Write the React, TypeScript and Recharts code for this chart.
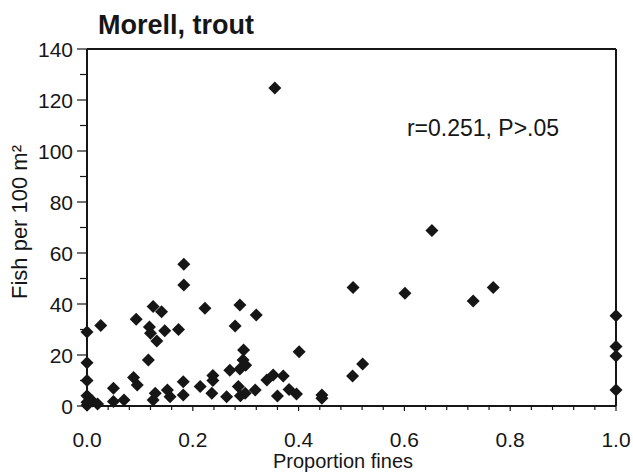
import React from 'react';
import { ScatterChart, Scatter, XAxis, YAxis, ReferenceLine } from 'recharts';

// proportion of fines (x) and fish per 100 m² (y)
const fines = [
  0, 0, 0, 0, 0, 0, 0.01, 0.02, 0.026,
  0.05, 0.05, 0.07, 0.088, 0.095, 0.093,
  0.116, 0.118, 0.125, 0.141, 0.132, 0.12, 0.147, 0.173,
  0.129, 0.125, 0.152, 0.157, 0.182, 0.182,
  0.183, 0.183, 0.223,
  0.214, 0.238, 0.238, 0.236, 0.27, 0.264,
  0.289, 0.28, 0.296, 0.295, 0.3, 0.289, 0.286, 0.29, 0.299,
  0.32, 0.318, 0.355,
  0.34, 0.352, 0.371, 0.36, 0.382, 0.396, 0.401,
  0.444, 0.444,
  0.503, 0.502, 0.521, 0.601, 0.652, 0.73, 0.768,
  1, 1, 1, 1,
];
const fish = [
  29, 17, 10, 4, 1.5, 0.3, 2, 0.8, 31.6,
  7, 1.8, 2.4, 11.2, 8.2, 34,
  18, 31, 39, 37, 25.5, 28.5, 29.5, 30,
  5, 2.4, 6.3, 3.6, 9.5, 4.3,
  47.5, 55.6, 38.3,
  7.6, 10, 12, 5, 14, 3.6,
  39.6, 31.4, 22, 18, 16, 14.5, 7.6, 4, 5,
  35.7, 6.3, 124.7,
  10.2, 12.2, 11.8, 3.9, 6.5, 4.7, 21.3,
  4.3, 3,
  46.5, 11.8, 16.5, 44.2, 68.8, 41.2, 46.5,
  35.4, 23.3, 19.6, 6.3,
];

const xTicks = [0, 0.04, 0.08, 0.12, 0.16, 0.2, 0.24, 0.28, 0.32, 0.36, 0.4, 0.44, 0.48, 0.52, 0.56, 0.6, 0.64, 0.68, 0.72, 0.76, 0.8, 0.84, 0.88, 0.92, 0.96, 1];
const yTicks = [0, 10, 20, 30, 40, 50, 60, 70, 80, 90, 100, 110, 120, 130, 140];

const points = fines.map((x, i) => ({ x, y: fish[i] }));

const FONT = '"Liberation Sans", Arial, sans-serif';
const INK = '#161616';

const Diamond = (props: any) => {
  const { cx, cy } = props;
  const r = 6.5;
  return (
    <polygon
      points={`${cx},${cy - r} ${cx + r},${cy} ${cx},${cy + r} ${cx - r},${cy}`}
      fill={INK}
    />
  );
};

const XTick = (props: any) => {
  const { x, y, payload } = props;
  const v = payload.value;
  const major = Math.abs(v * 5 - Math.round(v * 5)) < 1e-6;
  return (
    <g>
      <line x1={x} x2={x} y1={y} y2={y + (major ? 5 : 4)} stroke={INK} strokeWidth={1.2} />
      {major && (
        <text x={x} y={y + 41} textAnchor="middle" fontSize={21} fontFamily={FONT} fill={INK}>
          {v.toFixed(1)}
        </text>
      )}
    </g>
  );
};

const YTick = (props: any) => {
  const { x, y, payload } = props;
  const v = payload.value;
  const major = v % 20 === 0;
  return (
    <g>
      <line x1={x - (major ? 10 : 7)} x2={x} y1={y} y2={y} stroke={INK} strokeWidth={1.2} />
      {major && (
        <text x={x - 14} y={y + 7.5} textAnchor="end" fontSize={21} fontFamily={FONT} fill={INK}>
          {v}
        </text>
      )}
    </g>
  );
};

export default function App() {
  return (
    <div style={{ position: 'absolute', left: 0, top: 0, width: 633, height: 474, background: '#fff', overflow: 'hidden' }}>
      <ScatterChart width={633} height={474} margin={{ top: 49, right: 17, bottom: 28, left: 27 }}>
        <XAxis
          type="number"
          dataKey="x"
          domain={[0, 1]}
          ticks={xTicks}
          interval={0}
          tick={<XTick />}
          tickLine={false}
          tickSize={0}
          tickMargin={0}
          height={40}
          axisLine={{ stroke: INK, strokeWidth: 2 }}
        />
        <YAxis
          type="number"
          dataKey="y"
          domain={[0, 140]}
          ticks={yTicks}
          interval={0}
          tick={<YTick />}
          tickLine={false}
          tickSize={0}
          tickMargin={0}
          width={60}
          axisLine={{ stroke: INK, strokeWidth: 2 }}
        />
        <ReferenceLine y={140} stroke={INK} strokeWidth={2} />
        <ReferenceLine x={1} stroke={INK} strokeWidth={2} />
        <Scatter data={points} shape={<Diamond />} isAnimationActive={false} />
      </ScatterChart>
      <div style={{ position: 'absolute', left: 176, top: 25, transform: 'translate(-50%, -50%)', fontFamily: FONT, fontWeight: 'bold', fontSize: 27, color: INK, whiteSpace: 'nowrap' }}>
        Morell, trout
      </div>
      <div style={{ position: 'absolute', left: 483, top: 128, transform: 'translate(-50%, -50%)', fontFamily: FONT, fontSize: 23, color: INK, whiteSpace: 'nowrap' }}>
        r=0.251, P&gt;.05
      </div>
      <div style={{ position: 'absolute', left: 343, top: 461, transform: 'translate(-50%, -50%)', fontFamily: FONT, fontSize: 20, lineHeight: '22px', color: INK, whiteSpace: 'nowrap' }}>
        Proportion fines
      </div>
      <div style={{ position: 'absolute', left: 20, top: 222, transform: 'translate(-50%, -50%) rotate(-90deg)', fontFamily: FONT, fontSize: 22, color: INK, whiteSpace: 'nowrap' }}>
        Fish per 100 m²
      </div>
    </div>
  );
}
